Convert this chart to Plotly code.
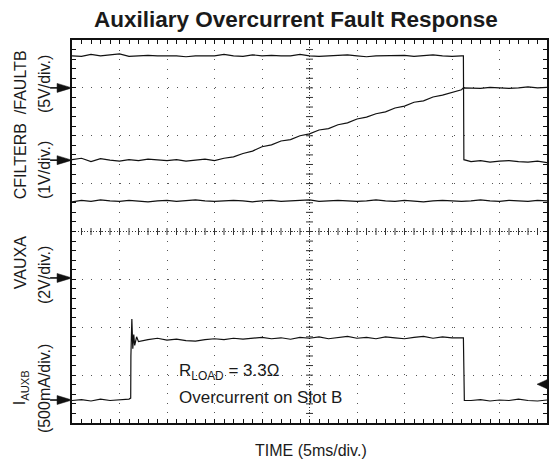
import numpy as np
import plotly.graph_objects as go

# ---- data: time in ms (5 ms/div), amplitude in screen divisions (0 = bottom line)
faultb_t = list(range(0, 42)) + [41.2, 41.25] + list(range(42, 51))
faultb_v = [7.67, 7.66, 7.70, 7.67, 7.69, 7.71, 7.66, 7.67, 7.68, 7.67,
            7.67, 7.67, 7.65, 7.67, 7.67, 7.67, 7.70, 7.67, 7.66, 7.69,
            7.67, 7.68, 7.67, 7.67, 7.70, 7.67, 7.66, 7.67, 7.67, 7.69,
            7.67, 7.65, 7.67, 7.67, 7.67, 7.68, 7.66, 7.67, 7.69, 7.67,
            7.66, 7.67,
            7.67, 5.50,
            5.46, 5.48, 5.45, 5.47, 5.48, 5.46, 5.45, 5.47, 5.44]

cfilterb_t = list(range(0, 42)) + [41.2] + list(range(42, 51))
cfilterb_v = [5.50, 5.53, 5.46, 5.52, 5.49, 5.47, 5.50, 5.48, 5.51, 5.49,
              5.48, 5.50, 5.47, 5.49, 5.51, 5.48,
              5.53, 5.56, 5.63, 5.68, 5.77, 5.81, 5.89, 5.92, 6.00, 6.04,
              6.12, 6.15, 6.23, 6.27, 6.35, 6.39, 6.46, 6.50, 6.58, 6.62,
              6.70, 6.73, 6.81, 6.85, 6.91, 6.96,
              7.00,
              7.00, 6.99, 7.01, 7.00, 6.99, 7.00, 7.02, 7.00, 7.01]

vauxa_t = list(range(0, 51))
vauxa_v = [4.62, 4.65, 4.63, 4.66, 4.64, 4.63, 4.65, 4.64, 4.62, 4.64,
           4.65, 4.63, 4.64, 4.66, 4.64, 4.63, 4.64, 4.65, 4.64, 4.62,
           4.64, 4.65, 4.63, 4.64, 4.64, 4.66, 4.63, 4.64, 4.65, 4.64,
           4.63, 4.64, 4.66, 4.64, 4.63, 4.65, 4.64, 4.62, 4.64, 4.65,
           4.64, 4.63, 4.64, 4.66, 4.64, 4.63, 4.65, 4.64, 4.63, 4.65,
           4.64]

iauxb_t = (list(range(0, 7)) + [6.18, 6.2, 6.3, 6.4, 6.5, 6.6, 6.8, 7]
           + list(range(8, 42)) + [41.2, 41.3] + list(range(42, 51)))
iauxb_v = [0.47, 0.49, 0.46, 0.50, 0.47, 0.48, 0.50,
           0.52, 1.40, 2.17, 1.55, 1.85, 1.62, 1.80, 1.70,
           1.74, 1.77, 1.73, 1.75, 1.72, 1.71, 1.74, 1.76, 1.74, 1.77,
           1.75, 1.77, 1.79, 1.76, 1.78, 1.75, 1.79, 1.77, 1.80, 1.76,
           1.78, 1.81, 1.77, 1.79, 1.76, 1.80, 1.78, 1.76, 1.79, 1.81,
           1.77, 1.80, 1.78, 1.79,
           1.78, 0.47,
           0.47, 0.49, 0.46, 0.48, 0.47, 0.50, 0.47, 0.46, 0.48]

# ground-reference markers (divisions) on the left, trigger level on the right
ground_levels = [7.0, 5.49, 3.03, 0.48]
trigger_level = 0.81

title_text = "Auxiliary Overcurrent Fault Response"
xlabel_text = "TIME (5ms/div.)"

# ---- geometry
W, H = 551, 466
L, R, T, B = 72, 549, 40, 423
FONT = "Liberation Sans, Arial, Helvetica, sans-serif"
INK = "#1a1a1a"


def px(xp, yp):
    return (xp - L) / (R - L), (B - yp) / (B - T)


def ydiv_to_px(v):
    return B - v * (B - T) / 8.0


fig = go.Figure()
line = dict(color="#111", width=1.2)
for tx, vy in [(faultb_t, faultb_v), (cfilterb_t, cfilterb_v),
               (vauxa_t, vauxa_v), (iauxb_t, iauxb_v)]:
    fig.add_trace(go.Scatter(x=tx, y=vy, mode="lines", line=line,
                             hoverinfo="skip"))

# centre graticule lines with cross ticks
fig.add_shape(type="line", x0=25, x1=25, y0=0, y1=8, xref="x", yref="y",
              line=dict(color="#333", width=1, dash="1px,2px"), layer="below")
fig.add_shape(type="line", x0=0, x1=50, y0=4, y1=4, xref="x", yref="y",
              line=dict(color="#333", width=1, dash="1px,2px"), layer="below")
tx = np.arange(1, 50, 1.0)
fig.add_trace(go.Scatter(x=tx, y=[4] * len(tx), mode="markers",
                         marker=dict(symbol="line-ns", size=5,
                                     line=dict(color="#333", width=1)),
                         hoverinfo="skip"))
ty = np.arange(0.2, 8, 0.2)
fig.add_trace(go.Scatter(x=[25] * len(ty), y=ty, mode="markers",
                         marker=dict(symbol="line-ew", size=5,
                                     line=dict(color="#333", width=1)),
                         hoverinfo="skip"))

axis_common = dict(showgrid=True, gridcolor="#555", gridwidth=1,
                   showline=True, linewidth=2, linecolor="#111",
                   mirror="allticks", ticks="inside", ticklen=4,
                   tickcolor="#111", showticklabels=False, zeroline=False,
                   fixedrange=True)
fig.update_xaxes(range=[0, 50], dtick=5, griddash="1px,8.55px",
                 minor=dict(dtick=1, ticks="inside", ticklen=4,
                            tickcolor="#111", showgrid=False),
                 **axis_common)
fig.update_yaxes(range=[0, 8], dtick=1, griddash="1px,8.55px",
                 minor=dict(dtick=0.2, ticks="inside", ticklen=4,
                            tickcolor="#111", showgrid=False),
                 **axis_common)

ann = []
x, y = px(296.5, 19)
ann.append(dict(text="<b>" + title_text + "</b>", x=x, y=y, xref="paper",
                yref="paper", showarrow=False, font=dict(size=22.5, color=INK),
                xanchor="center", yanchor="middle"))
x, y = px(312, 451)
ann.append(dict(text=xlabel_text, x=x, y=y, xref="paper", yref="paper",
                showarrow=False, font=dict(size=16, color=INK),
                xanchor="center", yanchor="middle"))

side_labels = [
    ("CFILTERB  /FAULTB", 20, 125),
    ("(5V/div.)", 44, 84),
    ("(1V/div.)", 44, 170),
    ("VAUXA", 20, 263),
    ("(2V/div.)", 44, 275),
    ("I<sub>AUXB</sub>", 20, 388),
    ("(500mA/div.)", 44, 388),
]
for txt, xp, yp in side_labels:
    x, y = px(xp, yp)
    ann.append(dict(text=txt, x=x, y=y, xref="paper", yref="paper",
                    showarrow=False, textangle=-90,
                    font=dict(size=16, color=INK),
                    xanchor="center", yanchor="middle"))

# ground arrows (left) drawn as shapes in paper coordinates
shapes = []
for g in ground_levels:
    yp = ydiv_to_px(g)
    x0, y0 = px(50, yp)
    x1, _ = px(60, yp)
    shapes.append(dict(type="line", xref="paper", yref="paper", x0=x0, x1=x1,
                       y0=y0, y1=y0, line=dict(color="#111", width=1.6)))
    a = px(57, yp - 4.5)
    b = px(72, yp)
    c = px(57, yp + 4.5)
    shapes.append(dict(type="path", xref="paper", yref="paper",
                       path=f"M {a[0]} {a[1]} L {b[0]} {b[1]} L {c[0]} {c[1]} Z",
                       fillcolor="#111", line=dict(color="#111", width=0.5)))
# trigger arrow (right edge), pointing left
yp = ydiv_to_px(trigger_level)
a = px(549, yp - 4.5)
b = px(539, yp)
c = px(549, yp + 4.5)
shapes.append(dict(type="path", xref="paper", yref="paper",
                   path=f"M {a[0]} {a[1]} L {b[0]} {b[1]} L {c[0]} {c[1]} Z",
                   fillcolor="#111", line=dict(color="#111", width=0.5)))

ann.append(dict(x=11.1, y=1.07, xref="x", yref="y",
                text="R<sub>LOAD</sub> = 3.3Ω", showarrow=False,
                xanchor="left", yanchor="middle",
                font=dict(size=17, color=INK)))
ann.append(dict(x=11.1, y=0.54, xref="x", yref="y",
                text="Overcurrent on Slot B", showarrow=False,
                xanchor="left", yanchor="middle",
                font=dict(size=17, color=INK)))

fig.update_layout(width=W, height=H,
                  margin=dict(l=L, r=W - R, t=T, b=H - B, pad=0),
                  plot_bgcolor="white", paper_bgcolor="white",
                  showlegend=False, font=dict(family=FONT, color=INK),
                  hovermode=False,
                  annotations=ann, shapes=fig.layout.shapes + tuple(shapes))

fig.write_html("out.html",
               config={"displayModeBar": False, "staticPlot": True},
               post_script="document.body.style.margin='0px';"
                           "document.body.style.overflow='hidden';")
